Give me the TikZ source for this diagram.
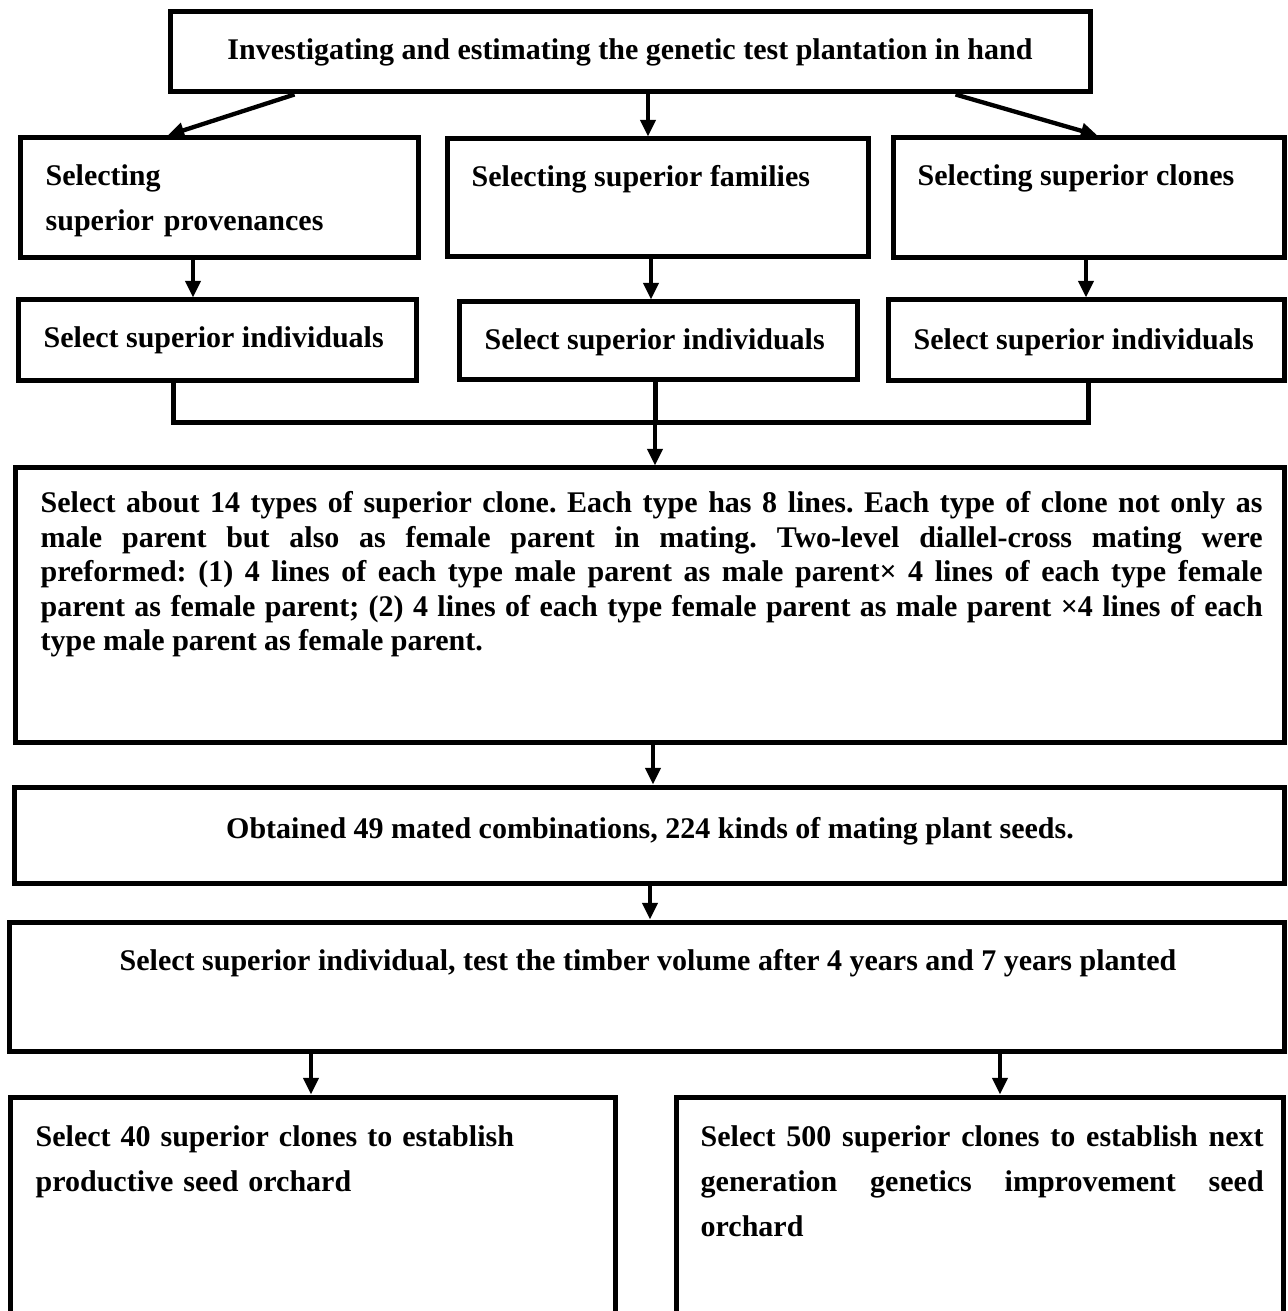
\documentclass[tikz,border=0pt]{standalone}
\usepackage{fontspec}
\setmainfont{Liberation Serif}
\usetikzlibrary{arrows.meta,fit,calc}
\frenchspacing

\begin{document}
\begin{tikzpicture}[x=0.3pt,y=-0.3pt,
  box/.style={draw,line width=1.5pt,inner sep=0pt,fit={#1}},
  lbl/.style={anchor=base west,inner sep=0pt,align=left,
    font=\fontsize{9}{13.5}\selectfont\bfseries},
  arr/.style={line width=1.3pt,-{Triangle[length=5pt,width=4.5pt]}},
  conn/.style={line width=1.5pt}]
  \useasboundingbox (0,0) rectangle (1287,1311);
  % boxes
  \node[box={(170,12) (1090,92)}] (top) {};
  \node[box={(20,138) (418,258)}] (selP) {};
  \node[box={(447,139) (868,257)}] (selF) {};
  \node[box={(893,138) (1284,258)}] (selC) {};
  \node[box={(18,300) (416,381)}] (indA) {};
  \node[box={(459,302) (857,380)}] (indB) {};
  \node[box={(888,300) (1284,381)}] (indC) {};
  \node[box={(15,468) (1284,742)}] (mating) {};
  \node[box={(14,787) (1284,883)}] (obt) {};
  \node[box={(9,922) (1284,1051)}] (test) {};
  \node[box={(10,1097) (615,1340)}] (orchA) {};
  \node[box={(676,1097) (1283,1340)}] (orchB) {};
  % texts
  \node[lbl,anchor=base] (t0) at (630,60) {Investigating and estimating the genetic test plantation in hand};
  \node[lbl,text width=110pt] (tP) at (45,186) {Selecting\\superior provenances};
  \node[lbl] (tF) at (471,187) {Selecting superior families};
  \node[lbl] (tC) at (917,186) {Selecting superior clones};
  \node[lbl] (iA) at (43,348) {Select superior individuals};
  \node[lbl] (iB) at (484,350) {Select superior individuals};
  \node[lbl] (iC) at (913,350) {Select superior individuals};
  \node[lbl,text width=366.6pt,align=justify,font=\fontsize{9}{10.35}\selectfont\bfseries] (tM) at (40,513)
    {Select about 14 types of superior clone. Each type has 8 lines. Each type of clone not only as\linebreak
     male parent but also as female parent in mating. Two-level diallel-cross mating were\linebreak
     preformed: (1) 4 lines of each type male parent as male parent× 4 lines of each type female\linebreak
     parent as female parent; (2) 4 lines of each type female parent as male parent ×4 lines of each\linebreak
     type male parent as female parent.};
  \node[lbl,anchor=base] (tO) at (650,838) {Obtained 49 mated combinations, 224 kinds of mating plant seeds.};
  \node[lbl,anchor=base] (tT) at (648,970) {Select superior individual, test the timber volume after 4 years and 7 years planted};
  \node[lbl,text width=170pt] (tOA) at (35,1146) {Select 40 superior clones to establish\\productive seed orchard};
  \node[lbl,text width=168.9pt,align=justify] (tOB) at (700,1146)
    {Select 500 superior clones to establish next\linebreak
     generation genetics improvement seed\linebreak orchard};
  % connectors
  \coordinate (xA) at (193,0);
  \coordinate (xB) at (651,0);
  \coordinate (xC) at (1086,0);
  \coordinate (x0) at (648,0);
  \coordinate (jl) at (173,423);
  \coordinate (jm) at (655,423);
  \coordinate (jr) at (1088,423);
  \coordinate (xM) at (653,0);
  \coordinate (xO) at (650,0);
  \coordinate (xL) at (311,0);
  \coordinate (xR) at (1000,0);
  \draw[arr] ($(top.south west)+(127,0)$) -- ($(selP.north west)+(150,0)$);
  \draw[arr] (top.south -| x0) -- (selF.north -| x0);
  \draw[arr] ($(top.south west)+(788,0)$) -- ($(selC.north west)+(207,0)$);
  \draw[arr] (selP.south -| xA) -- (indA.north -| xA);
  \draw[arr] (selF.south -| xB) -- (indB.north -| xB);
  \draw[arr] (selC.south -| xC) -- (indC.north -| xC);
  \draw[conn] (indA.south -| jl) -- (jl) -- (jr) -- (indC.south -| jr);
  \draw[conn] (indB.south -| jm) -- (jm);
  \draw[arr] (jm) -- (mating.north -| jm);
  \draw[arr] (mating.south -| xM) -- (obt.north -| xM);
  \draw[arr] (obt.south -| xO) -- (test.north -| xO);
  \draw[arr] (test.south -| xL) -- (orchA.north -| xL);
  \draw[arr] (test.south -| xR) -- (orchB.north -| xR);
\end{tikzpicture}
\end{document}
